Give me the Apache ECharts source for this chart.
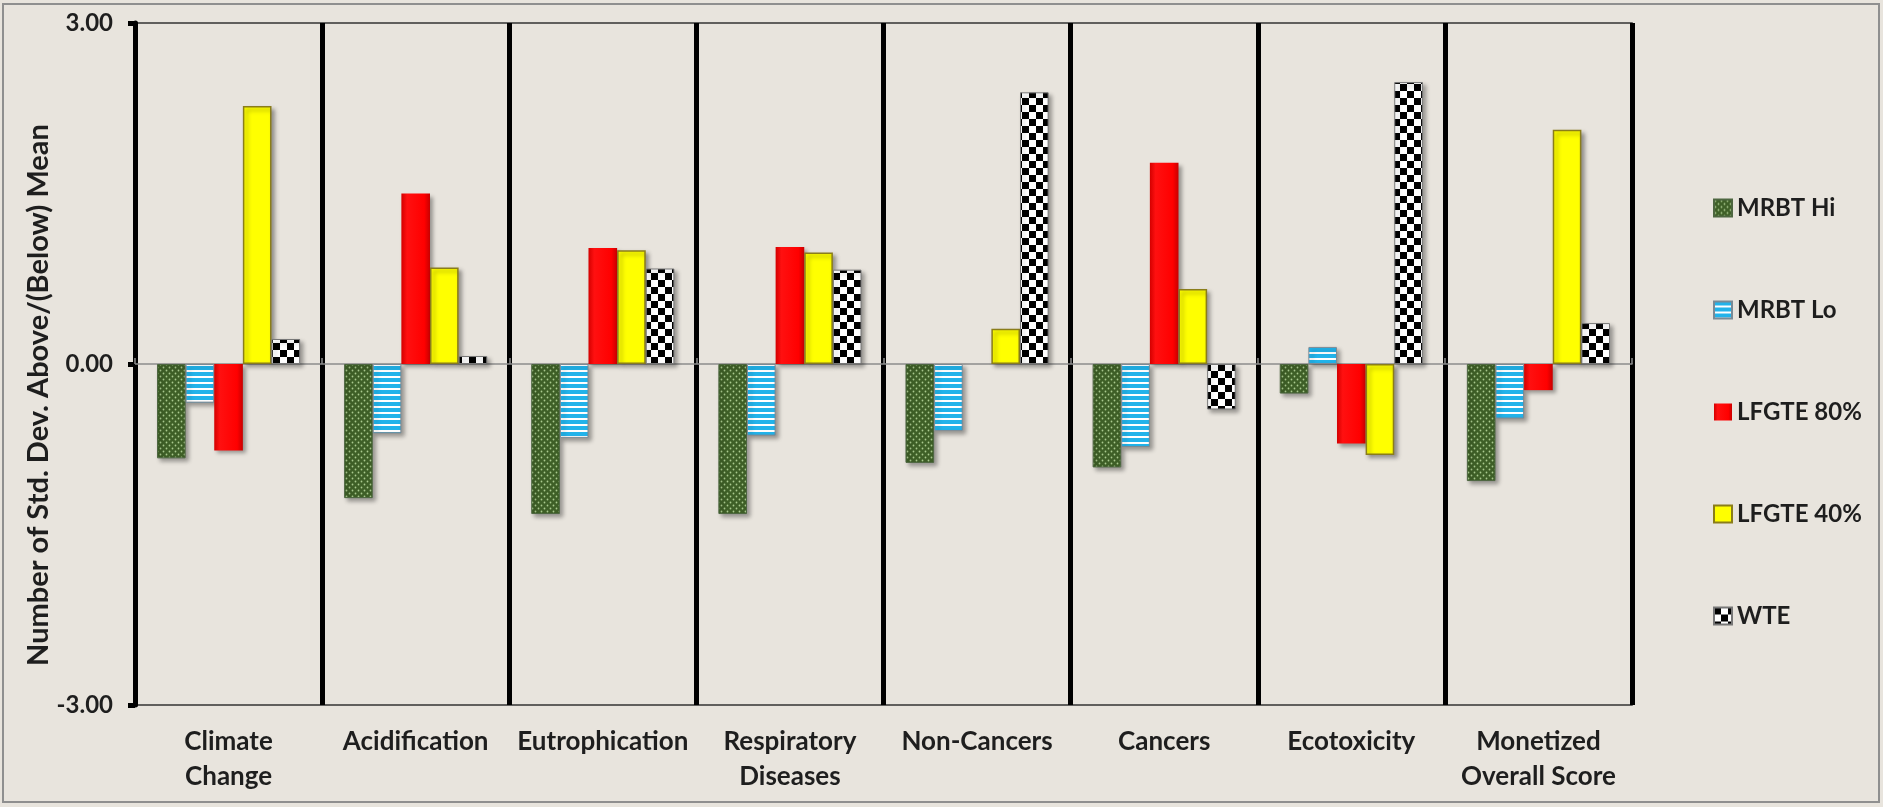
<!DOCTYPE html>
<html>
<head>
<meta charset="utf-8">
<script src="https://cdn.jsdelivr.net/npm/echarts@6/dist/echarts.min.js"></script>
<style>
html,body{margin:0;padding:0;background:#ffffff;}
#chart{width:1883px;height:807px;}
</style>
</head>
<body>
<div id="chart"></div>
<script>
// ---- data ----
const categories = ['Climate\nChange', 'Acidification', 'Eutrophication', 'Respiratory\nDiseases', 'Non-Cancers', 'Cancers', 'Ecotoxicity', 'Monetized\nOverall Score'];
const seriesNames = ['MRBT Hi', 'MRBT Lo', 'LFGTE 80%', 'LFGTE 40%', 'WTE'];
const mrbtHi  = [-0.83, -1.18, -1.32, -1.32, -0.87, -0.91, -0.26, -1.03];
const mrbtLo  = [-0.34, -0.61, -0.65, -0.63, -0.59, -0.73, 0.15, -0.48];
const lfgte80 = [-0.76, 1.50, 1.02, 1.03, 0, 1.77, -0.70, -0.23];
const lfgte40 = [2.27, 0.85, 1.00, 0.98, 0.31, 0.66, -0.80, 2.06];
const wte     = [0.22, 0.07, 0.84, 0.83, 2.39, -0.40, 2.48, 0.36];
const yTicks = { min: -3, max: 3, interval: 3 };
const yTitle = 'Number of Std. Dev. Above/(Below) Mean';

// ---- patterns ----
function makeCanvas(w, h, draw) {
  const c = document.createElement('canvas');
  c.width = w; c.height = h;
  draw(c.getContext('2d'));
  return c;
}
const dotsPattern = makeCanvas(6, 6, ctx => {
  ctx.fillStyle = '#3e5f27'; ctx.fillRect(0, 0, 6, 6);
  ctx.fillStyle = '#a9c98e';
  ctx.beginPath(); ctx.arc(1.5, 1.5, 0.9, 0, Math.PI * 2); ctx.fill();
  ctx.beginPath(); ctx.arc(4.5, 4.5, 0.9, 0, Math.PI * 2); ctx.fill();
});
const stripePattern = makeCanvas(6, 6, ctx => {
  ctx.fillStyle = '#ffffff'; ctx.fillRect(0, 0, 6, 6);
  ctx.fillStyle = '#22b3ea'; ctx.fillRect(0, 0, 6, 4);
});
const checkerPattern = makeCanvas(14, 14, ctx => {
  ctx.fillStyle = '#ffffff'; ctx.fillRect(0, 0, 14, 14);
  ctx.fillStyle = '#000000';
  ctx.fillRect(0, 0, 7, 7); ctx.fillRect(7, 7, 7, 7);
});

const shadow = { shadowColor: 'rgba(0,0,0,0.35)', shadowBlur: 4, shadowOffsetX: 3, shadowOffsetY: 3 };
const styles = [
  Object.assign({ color: { image: dotsPattern, repeat: 'repeat' }, borderColor: '#4d6640', borderWidth: 1 }, shadow),
  Object.assign({ color: { image: stripePattern, repeat: 'repeat' }, borderColor: '#7a8a95', borderWidth: 1 }, shadow),
  Object.assign({ color: new echarts.graphic.LinearGradient(0, 0, 1, 0, [
      { offset: 0, color: '#d40000' }, { offset: 0.2, color: '#ff1010' },
      { offset: 0.8, color: '#ff0000' }, { offset: 1, color: '#c80000' }]), borderWidth: 0 }, shadow),
  Object.assign({ color: '#ffff00', borderColor: '#8a7d1a', borderWidth: 1.5 }, shadow),
  Object.assign({ color: { image: checkerPattern, repeat: 'repeat' }, borderColor: '#777777', borderWidth: 1 }, shadow)
];
const valueSets = [mrbtHi, mrbtLo, lfgte80, lfgte40, wte];

const chart = echarts.init(document.getElementById('chart'), null, { renderer: 'canvas' });
const font = 'Lato';
const txt = '#1e1e1e';
chart.setOption({
  backgroundColor: '#e8e4dd',
  animation: false,
  textStyle: { fontFamily: font },
  graphic: [{
    type: 'rect', silent: true, z: -1,
    shape: { x: 3, y: 4, width: 1876, height: 798 },
    style: { fill: 'none', stroke: '#8f8f8f', lineWidth: 2 }
  }, {
    type: 'text', silent: true,
    x: 39, y: 395, rotation: Math.PI / 2,
    style: { text: yTitle, fontFamily: font, fontSize: 29, fontWeight: 'bold', fill: txt, align: 'center', verticalAlign: 'middle' }
  }],
  grid: { left: 135, right: 251, top: 23, bottom: 102, show: true, borderColor: '#333333', borderWidth: 1.5, backgroundColor: 'transparent' },
  legend: {
    orient: 'vertical', left: 1708, top: 191,
    itemWidth: 18, itemHeight: 17, itemGap: 78,
    icon: 'rect',
    textStyle: { fontFamily: font, fontSize: 24, fontWeight: 'bold', color: txt, lineHeight: 24 },
    data: seriesNames
  },
  xAxis: [{
    type: 'category', data: categories, position: 'bottom',
    axisLine: { show: false, onZero: false },
    axisTick: { show: false },
    axisLabel: { interval: 0, fontFamily: font, fontSize: 26, fontWeight: 'bold', color: txt, lineHeight: 35, margin: 19 },
    splitLine: { show: true, lineStyle: { color: '#000000', width: 5 } }
  }, {
    type: 'category', data: categories, position: 'top',
    axisLine: { show: true, onZero: true, lineStyle: { color: '#8c8c8c', width: 1.5 } },
    axisTick: { show: true, length: 6, lineStyle: { color: '#8c8c8c', width: 1.5 } },
    axisLabel: { show: false },
    splitLine: { show: false }
  }],
  yAxis: {
    type: 'value', min: yTicks.min, max: yTicks.max, interval: yTicks.interval,
    axisLine: { show: true, onZero: false, lineStyle: { color: '#000000', width: 5 } },
    axisTick: { show: true, length: 7, lineStyle: { color: '#000000', width: 5 } },
    axisLabel: { fontFamily: font, fontSize: 24, fontWeight: 'bold', color: txt, margin: 22,
      formatter: v => v.toFixed(2) },
    splitLine: { show: false }
  },
  series: seriesNames.map((name, i) => ({
    name: name, type: 'bar', xAxisIndex: 0, yAxisIndex: 0,
    data: valueSets[i],
    barGap: '0%', barCategoryGap: '23.5%',
    itemStyle: styles[i]
  }))
});
</script>
</body>
</html>
